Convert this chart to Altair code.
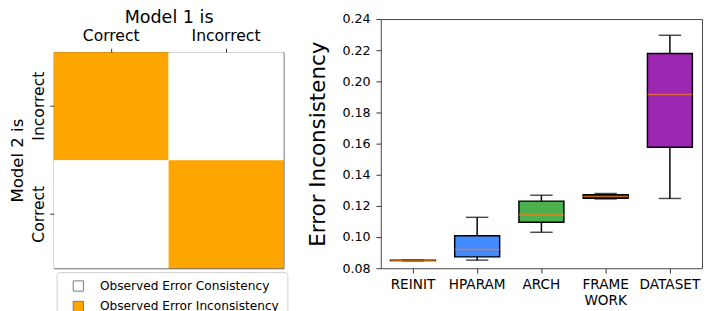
import altair as alt
import pandas as pd

# ---- left panel data (2x2 agreement matrix) ----
cell_model1 = ["Correct", "Incorrect", "Correct", "Incorrect"]
cell_model2 = ["Incorrect", "Incorrect", "Correct", "Correct"]
cell_kind = [
    "Observed Error Inconsistency",
    "Observed Error Consistency",
    "Observed Error Consistency",
    "Observed Error Inconsistency",
]
kind_order = ["Observed Error Consistency", "Observed Error Inconsistency"]
kind_colors = ["#ffffff", "#ffa500"]

# ---- right panel data (box plot summaries) ----
groups = ["REINIT", "HPARAM", "ARCH", "FRAMEWORK", "DATASET"]
w_low = [0.0848, 0.0852, 0.1031, 0.1245, 0.1248]
q1 = [0.0849, 0.0873, 0.1096, 0.1250, 0.1577]
med = [0.0850, 0.0920, 0.1144, 0.1260, 0.1915]
q3 = [0.0851, 0.1008, 0.1231, 0.1272, 0.2179]
w_high = [0.0852, 0.1127, 0.1269, 0.1280, 0.2296]
box_colors = ["#ff7f0e", "#428aff", "#4caf50", "#222222", "#9c27b0"]
y_ticks = [0.08, 0.10, 0.12, 0.14, 0.16, 0.18, 0.20, 0.22, 0.24]

FONT = "DejaVu Sans"

cells = pd.DataFrame({"m1": cell_model1, "m2": cell_model2, "kind": cell_kind})

heat = (
    alt.Chart(cells)
    .mark_rect(strokeWidth=0)
    .encode(
        x=alt.X(
            "m1:N",
            sort=["Correct", "Incorrect"],
            scale=alt.Scale(paddingInner=0, paddingOuter=0),
            axis=alt.Axis(
                orient="top", title="Model 1 is", titleFontSize=18, titleFontWeight="normal",
                titlePadding=1, labelFontSize=16, labelAngle=0, labelPadding=5, tickSize=4,
                domain=False, titleColor="black", labelColor="black", tickColor="#333",
            ),
        ),
        y=alt.Y(
            "m2:N",
            sort=["Incorrect", "Correct"],
            scale=alt.Scale(paddingInner=0, paddingOuter=0),
            axis=alt.Axis(
                title="Model 2 is", titleFontSize=17, titleFontWeight="normal", titlePadding=4,
                labelFontSize=16, labelAngle=270, labelAlign="center", labelBaseline="bottom",
                labelPadding=4, tickSize=4, domain=False, titleColor="black", labelColor="black",
                tickColor="#333",
            ),
        ),
        fill=alt.Fill(
            "kind:N",
            scale=alt.Scale(domain=kind_order, range=kind_colors),
            legend=alt.Legend(
                title=None, orient="none", legendX=3, legendY=226, direction="vertical",
                strokeColor="#d0d0d0", fillColor="white", cornerRadius=3, padding=8,
                symbolType="square", symbolSize=110, symbolStrokeColor="#777",
                symbolStrokeWidth=1, labelFontSize=12.5, labelOffset=16, symbolOffset=8,
                rowPadding=6, labelColor="black", labelLimit=400,
            ),
        ),
    )
    .properties(width=236, height=222)
)

spacer = (
    alt.Chart(pd.DataFrame({"v": [0]}))
    .mark_point(opacity=0)
    .properties(width=236, height=14, view=alt.ViewBackground(strokeOpacity=0))
)

left = (
    alt.vconcat(spacer, heat, spacing=20, bounds="flush")
    .resolve_scale(fill="independent")
    .resolve_legend(fill="independent")
)

stats = pd.DataFrame({
    "g": groups, "lo": w_low, "q1": q1, "med": med, "q3": q3, "hi": w_high, "c": box_colors,
})

xenc = alt.X(
    "g:N",
    sort=groups,
    scale=alt.Scale(paddingInner=0.3, paddingOuter=0.15),
    axis=alt.Axis(
        title=None, labelFontSize=14, labelAngle=0, labelPadding=5, tickSize=5,
        labelColor="black", tickColor="#333", domain=False,
        labelExpr="datum.value == 'FRAMEWORK' ? ['FRAME', 'WORK'] : datum.value",
        labelLineHeight=16,
    ),
)
yscale = alt.Scale(domain=[0.08, 0.24], nice=False, zero=False)
yaxis = alt.Axis(
    title="Error Inconsistency", titleFontSize=22, titleFontWeight="normal", titlePadding=13,
    labelFontSize=13, labelPadding=6, tickSize=5, values=y_ticks, format=".2f",
    grid=False, domain=False, titleColor="black", labelColor="black", tickColor="#333",
)

base = alt.Chart(stats)
whisk = base.mark_rule(color="black", strokeWidth=1.5).encode(
    x=xenc, y=alt.Y("lo:Q", scale=yscale, axis=yaxis), y2="hi:Q"
)
box = base.mark_bar(stroke="black", strokeWidth=1.5).encode(
    x=xenc, y=alt.Y("q1:Q", scale=yscale, axis=yaxis), y2="q3:Q",
    fill=alt.Fill("c:N", scale=None),
)
cap_lo = base.mark_tick(color="black", size=23, thickness=1.5, orient="horizontal").encode(
    x=xenc, y=alt.Y("lo:Q", scale=yscale, axis=yaxis)
)
cap_hi = base.mark_tick(color="black", size=23, thickness=1.5, orient="horizontal").encode(
    x=xenc, y=alt.Y("hi:Q", scale=yscale, axis=yaxis)
)
median = base.mark_tick(color="#ff7f0e", size=46, thickness=1.5, orient="horizontal").encode(
    x=xenc, y=alt.Y("med:Q", scale=yscale, axis=yaxis)
)
boxplot = alt.layer(whisk, box, cap_lo, cap_hi, median).properties(width=330, height=256)

chart = (
    alt.hconcat(left, boxplot, spacing=18)
    .resolve_scale(fill="independent")
    .resolve_legend(fill="independent")
    .properties(padding={"top": -4, "left": 0, "right": 0, "bottom": 0})
    .configure(font=FONT)
    .configure_view(stroke="#444", strokeWidth=1)
)

chart.save("out.html", embed_options={"renderer": "svg", "actions": False})
